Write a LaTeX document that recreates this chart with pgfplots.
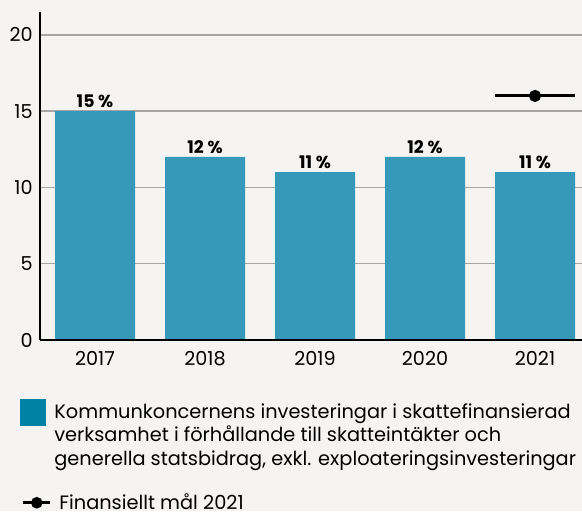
\documentclass[border=0pt]{standalone}
\usepackage{fontspec}
\setmainfont{Poppins}
\usepackage{pgfplots}
\pgfplotsset{compat=1.18}
\definecolor{bg}{RGB}{245,244,242}
\definecolor{barc}{RGB}{55,153,185}
\definecolor{legc}{RGB}{0,130,165}
\definecolor{gridc}{RGB}{165,165,165}

\begin{document}
\begin{tikzpicture}
\fill[bg] (-30pt,-128.25pt) rectangle (406.5pt,255pt);
\path[use as bounding box] (-30pt,-128.25pt) rectangle (406.5pt,255pt);
\begin{axis}[
  scale only axis, width=406.5pt, height=246pt,
  xmin=-0.5, xmax=4.427, ymin=0, ymax=21.5,
  axis x line*=bottom, axis y line*=left,
  axis line style={black, line width=1.2pt},
  xtick={0,1,2,3,4}, xticklabels={2017,2018,2019,2020,2021},
  major x tick style={draw=none},
  extra x ticks={0.5,1.5,2.5,3.5}, extra x tick labels={},
  extra x tick style={major tick length=5.5pt, tick align=inside, tick style={black, line width=1pt}, grid=none},
  ytick={0,5,10,15,20}, ymajorgrids,
  major y tick style={draw=none},
  grid style={gridc, line width=1pt},
  /pgf/number format/assume math mode=true,
  tick label style={font=\fontsize{14.4}{16}\selectfont},
  yticklabel style={xshift=-2pt},
  xticklabel style={yshift=-5pt},
  legend style={at={(0,0)}, anchor=north west, xshift=-15pt, yshift=-44pt,
    draw=none, fill=none, inner sep=0pt, row sep=16pt,
    font=\fontsize{14.5}{17.6}\selectfont, cells={align=left, anchor=west}},
  legend cell align=left,
  after end axis/.code={\draw[black, line width=1.2pt] (rel axis cs:0,0) -- (rel axis cs:1,0);},
]
\addplot[ybar, bar width=60pt, fill=barc, draw=none,
  nodes near coords={\bfseries\pgfmathprintnumber{\pgfplotspointmeta} \%},
  every node near coord/.append style={font=\fontsize{13}{15}\selectfont, black, yshift=-1pt},
  legend image code/.code={\fill[legc] (0pt,7.3pt) rectangle (19.5pt,27.3pt);}]
  coordinates {(0,15) (1,12) (2,11) (3,12) (4,11)};
\addlegendentry{Kommunkoncernens investeringar i skattefinansierad\\verksamhet i förhållande till skatteintäkter och\\generella statsbidrag, exkl. exploateringsinvesteringar}
\addplot[black, line width=2.2pt, mark=*, mark size=3.4pt, mark indices={2},
  legend image code/.code={\draw[black, line width=2.2pt] (2.25pt,0pt) -- (22.5pt,0pt); \fill[black] (12.4pt,0pt) circle (3.2pt);}]
  coordinates {(3.636,16) (4,16) (4.364,16)};
\addlegendentry{\hspace{3.75pt}Finansiellt mål 2021}
\end{axis}
\end{tikzpicture}
\end{document}
